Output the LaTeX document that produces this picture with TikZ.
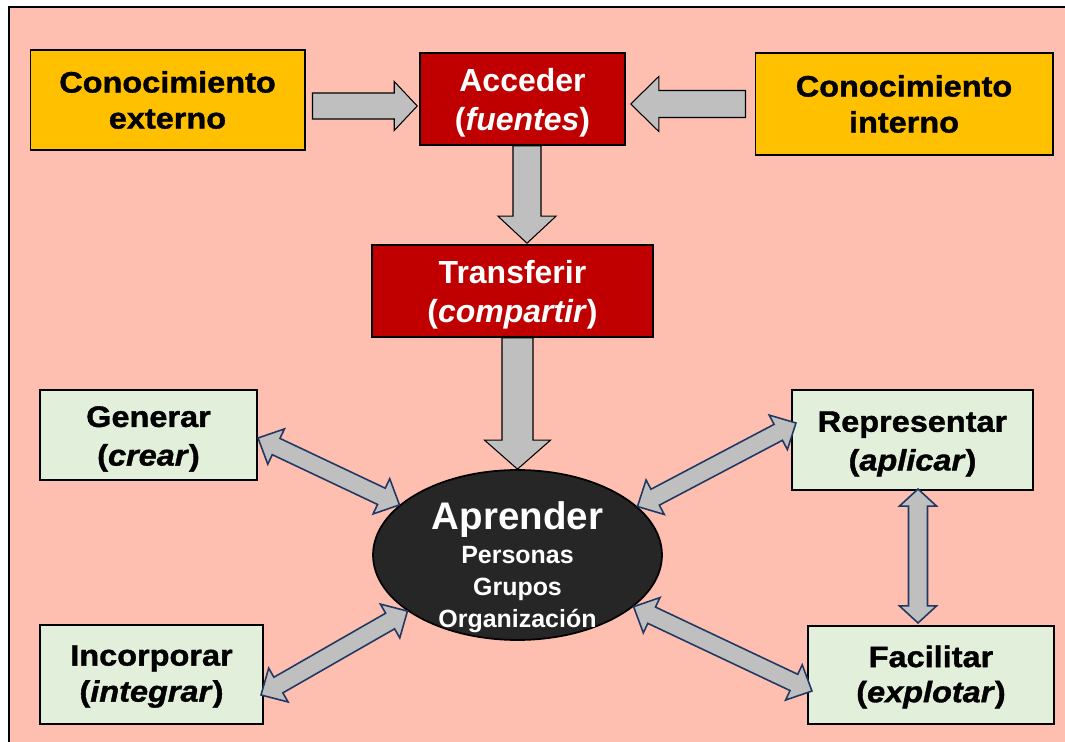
\documentclass[tikz,border=0pt]{standalone}
\usepackage{fontspec}
\setmainfont{Liberation Sans}
\newfontfamily\heavyfont{Liberation Sans}[FakeStretch=1.1, FakeBold=1.3]
\usetikzlibrary{calc,shapes.geometric}

\definecolor{bgpink}{RGB}{255,191,176}
\definecolor{orangefill}{RGB}{255,192,0}
\definecolor{redfill}{RGB}{192,0,0}
\definecolor{greenfill}{RGB}{226,239,218}
\definecolor{arrowgray}{RGB}{191,191,191}
\definecolor{navyline}{RGB}{31,56,100}
\definecolor{darkfill}{RGB}{38,38,38}

% Block arrow with one head: style, tail, tip, shaft half-width, head half-width, head length (px)
\newcommand\blockarrow[6]{%
  \coordinate (ba-s) at (#2);
  \coordinate (ba-e) at (#3);
  \coordinate (ba-h) at ($(ba-e)!#6*0.02cm!(ba-s)$);
  \draw[#1] ($(ba-s)!#4*0.02cm!90:(ba-e)$)
    -- ($(ba-h)!#4*0.02cm!90:(ba-e)$)
    -- ($(ba-h)!#5*0.02cm!90:(ba-e)$)
    -- (ba-e)
    -- ($(ba-h)!#5*0.02cm!-90:(ba-e)$)
    -- ($(ba-h)!#4*0.02cm!-90:(ba-e)$)
    -- ($(ba-s)!#4*0.02cm!-90:(ba-e)$) -- cycle;
}
% Block arrow with heads at both ends
\newcommand\twowayarrow[6]{%
  \coordinate (ta-s) at (#2);
  \coordinate (ta-e) at (#3);
  \coordinate (ta-h1) at ($(ta-s)!#6*0.02cm!(ta-e)$);
  \coordinate (ta-h2) at ($(ta-e)!#6*0.02cm!(ta-s)$);
  \draw[#1] (ta-s)
    -- ($(ta-h1)!#5*0.02cm!90:(ta-e)$)
    -- ($(ta-h1)!#4*0.02cm!90:(ta-e)$)
    -- ($(ta-h2)!#4*0.02cm!90:(ta-e)$)
    -- ($(ta-h2)!#5*0.02cm!90:(ta-e)$)
    -- (ta-e)
    -- ($(ta-h2)!#5*0.02cm!-90:(ta-e)$)
    -- ($(ta-h2)!#4*0.02cm!-90:(ta-e)$)
    -- ($(ta-h1)!#4*0.02cm!-90:(ta-e)$)
    -- ($(ta-h1)!#5*0.02cm!-90:(ta-e)$) -- cycle;
}

\tikzset{
  box/.style={rectangle, draw=black, inner sep=0pt, align=center},
  orangebox/.style={box, fill=orangefill, line width=0.6pt,
    font=\heavyfont\bfseries\fontsize{16.8pt}{20.5pt}\selectfont},
  redbox/.style={box, fill=redfill, line width=0.9pt, text=white,
    font=\bfseries\fontsize{18.2pt}{22.4pt}\selectfont},
  greenbox/.style={box, fill=greenfill, line width=1.2pt,
    font=\heavyfont\bfseries\fontsize{16.8pt}{21.5pt}\selectfont},
  blockstyle/.style={fill=arrowgray, draw=black, line width=0.6pt, line join=miter},
  dblstyle/.style={fill=arrowgray, draw=navyline, line width=0.9pt, line join=miter},
}

\begin{document}
\begin{tikzpicture}[x=0.02cm, y=-0.02cm]
\useasboundingbox (0,0) rectangle (1065,742);
\fill[white] (0,0) rectangle (1065,742);
\fill[bgpink] (9,7) rectangle (1065,742);
\draw[line width=1.1pt] (9,742) -- (9,7) -- (1065,7);

% top row
\node[orangebox, minimum width=5.5cm, minimum height=2cm] (ext) at (167.5,100) {Conocimiento\\externo};
\node[redbox, minimum width=4.1cm, minimum height=1.84cm] (acc) at (522.5,99) {};
\node[text=white, font=\bfseries\fontsize{18.2pt}{22.4pt}\selectfont, align=center, inner sep=0pt] (acctxt)
  at ($(acc.center)+(0,4)$) {Acceder\\(\textit{fuentes})};
\node[orangebox, minimum width=5.96cm, minimum height=2.04cm] (int) at (904,104) {Conocimiento\\interno};

% transfer
\node[redbox, minimum width=5.62cm, minimum height=1.84cm] (tra) at (512.5,291) {};
\node[text=white, font=\bfseries\fontsize{18.2pt}{22.4pt}\selectfont, align=center, inner sep=0pt] (tratxt)
  at ($(tra.center)+(0,4)$) {Transferir\\(\textit{compartir})};

% centre ellipse
\node[ellipse, draw=black, line width=1pt, fill=darkfill, minimum width=5.78cm, minimum height=3.4cm, inner sep=0pt] (apr) at (517.5,555) {};
\node[text=white, align=center, inner sep=0pt, font=\bfseries\fontsize{14.2pt}{18.2pt}\selectfont] (aprtxt) at (517.5,567)
  {{\fontsize{21.9pt}{24pt}\selectfont Aprender}\\[1.5pt] Personas\\Grupos\\Organización};

% outer boxes
\tikzset{gtext/.style={font=\heavyfont\bfseries\fontsize{16.8pt}{22pt}\selectfont, align=center, inner sep=0pt}}
\node[greenbox, minimum width=4.34cm, minimum height=1.8cm] (gen) at (148.5,435) {};
\node[gtext] (gentxt) at ($(gen.center)+(0,4)$) {Generar\\(\textit{crear})};
\node[greenbox, minimum width=4.82cm, minimum height=2cm] (rep) at (912.5,440) {};
\node[gtext] (reptxt) at ($(rep.center)+(0,4)$) {Representar\\(\textit{aplicar})};
\node[greenbox, minimum width=4.46cm, minimum height=1.98cm] (inc) at (151.5,674.5) {};
\node[gtext, font=\heavyfont\bfseries\fontsize{16.8pt}{20.5pt}\selectfont] (inctxt) at ($(inc.center)+(0,2)$) {Incorporar\\(\textit{integrar})};
\node[greenbox, minimum width=4.92cm, minimum height=1.96cm] (fac) at (931,675) {};
\node[gtext, font=\heavyfont\bfseries\fontsize{16.8pt}{20pt}\selectfont] (factxt) at ($(fac.center)+(0,2)$) {Facilitar\\(\textit{explotar})};

% one-way block arrows
\blockarrow{blockstyle}{$(ext.east)+(7,6)$}{$(acc.west)+(-2,7)$}{13}{24.5}{23}
\blockarrow{blockstyle}{$(int.west)+(-9,0)$}{$(acc.east)+(5,5)$}{13.5}{27.5}{28}
\blockarrow{blockstyle}{$(acc.south)+(4.5,0)$}{$(tra.north)+(14.5,-1)$}{14}{29}{27}
\blockarrow{blockstyle}{$(tra.south)+(5,0)$}{apr.north}{15.5}{33}{29}

% two-way arrows
\twowayarrow{dblstyle}{$(gen.east)+(0,3)$}{apr.157}{9}{19.5}{20}
\twowayarrow{dblstyle}{$(rep.west)+(5,-17)$}{apr.22}{9}{19.5}{20}
\twowayarrow{dblstyle}{$(inc.east)+(-3,20.5)$}{apr.207}{9}{19.5}{20}
\twowayarrow{dblstyle}{apr.336}{$(fac.west)+(5,16)$}{9}{19.5}{20}
\twowayarrow{dblstyle}{$(rep.south)+(5.5,-2)$}{$(fac.north)+(-13,-2)$}{9.5}{18.5}{17}
\end{tikzpicture}
\end{document}
